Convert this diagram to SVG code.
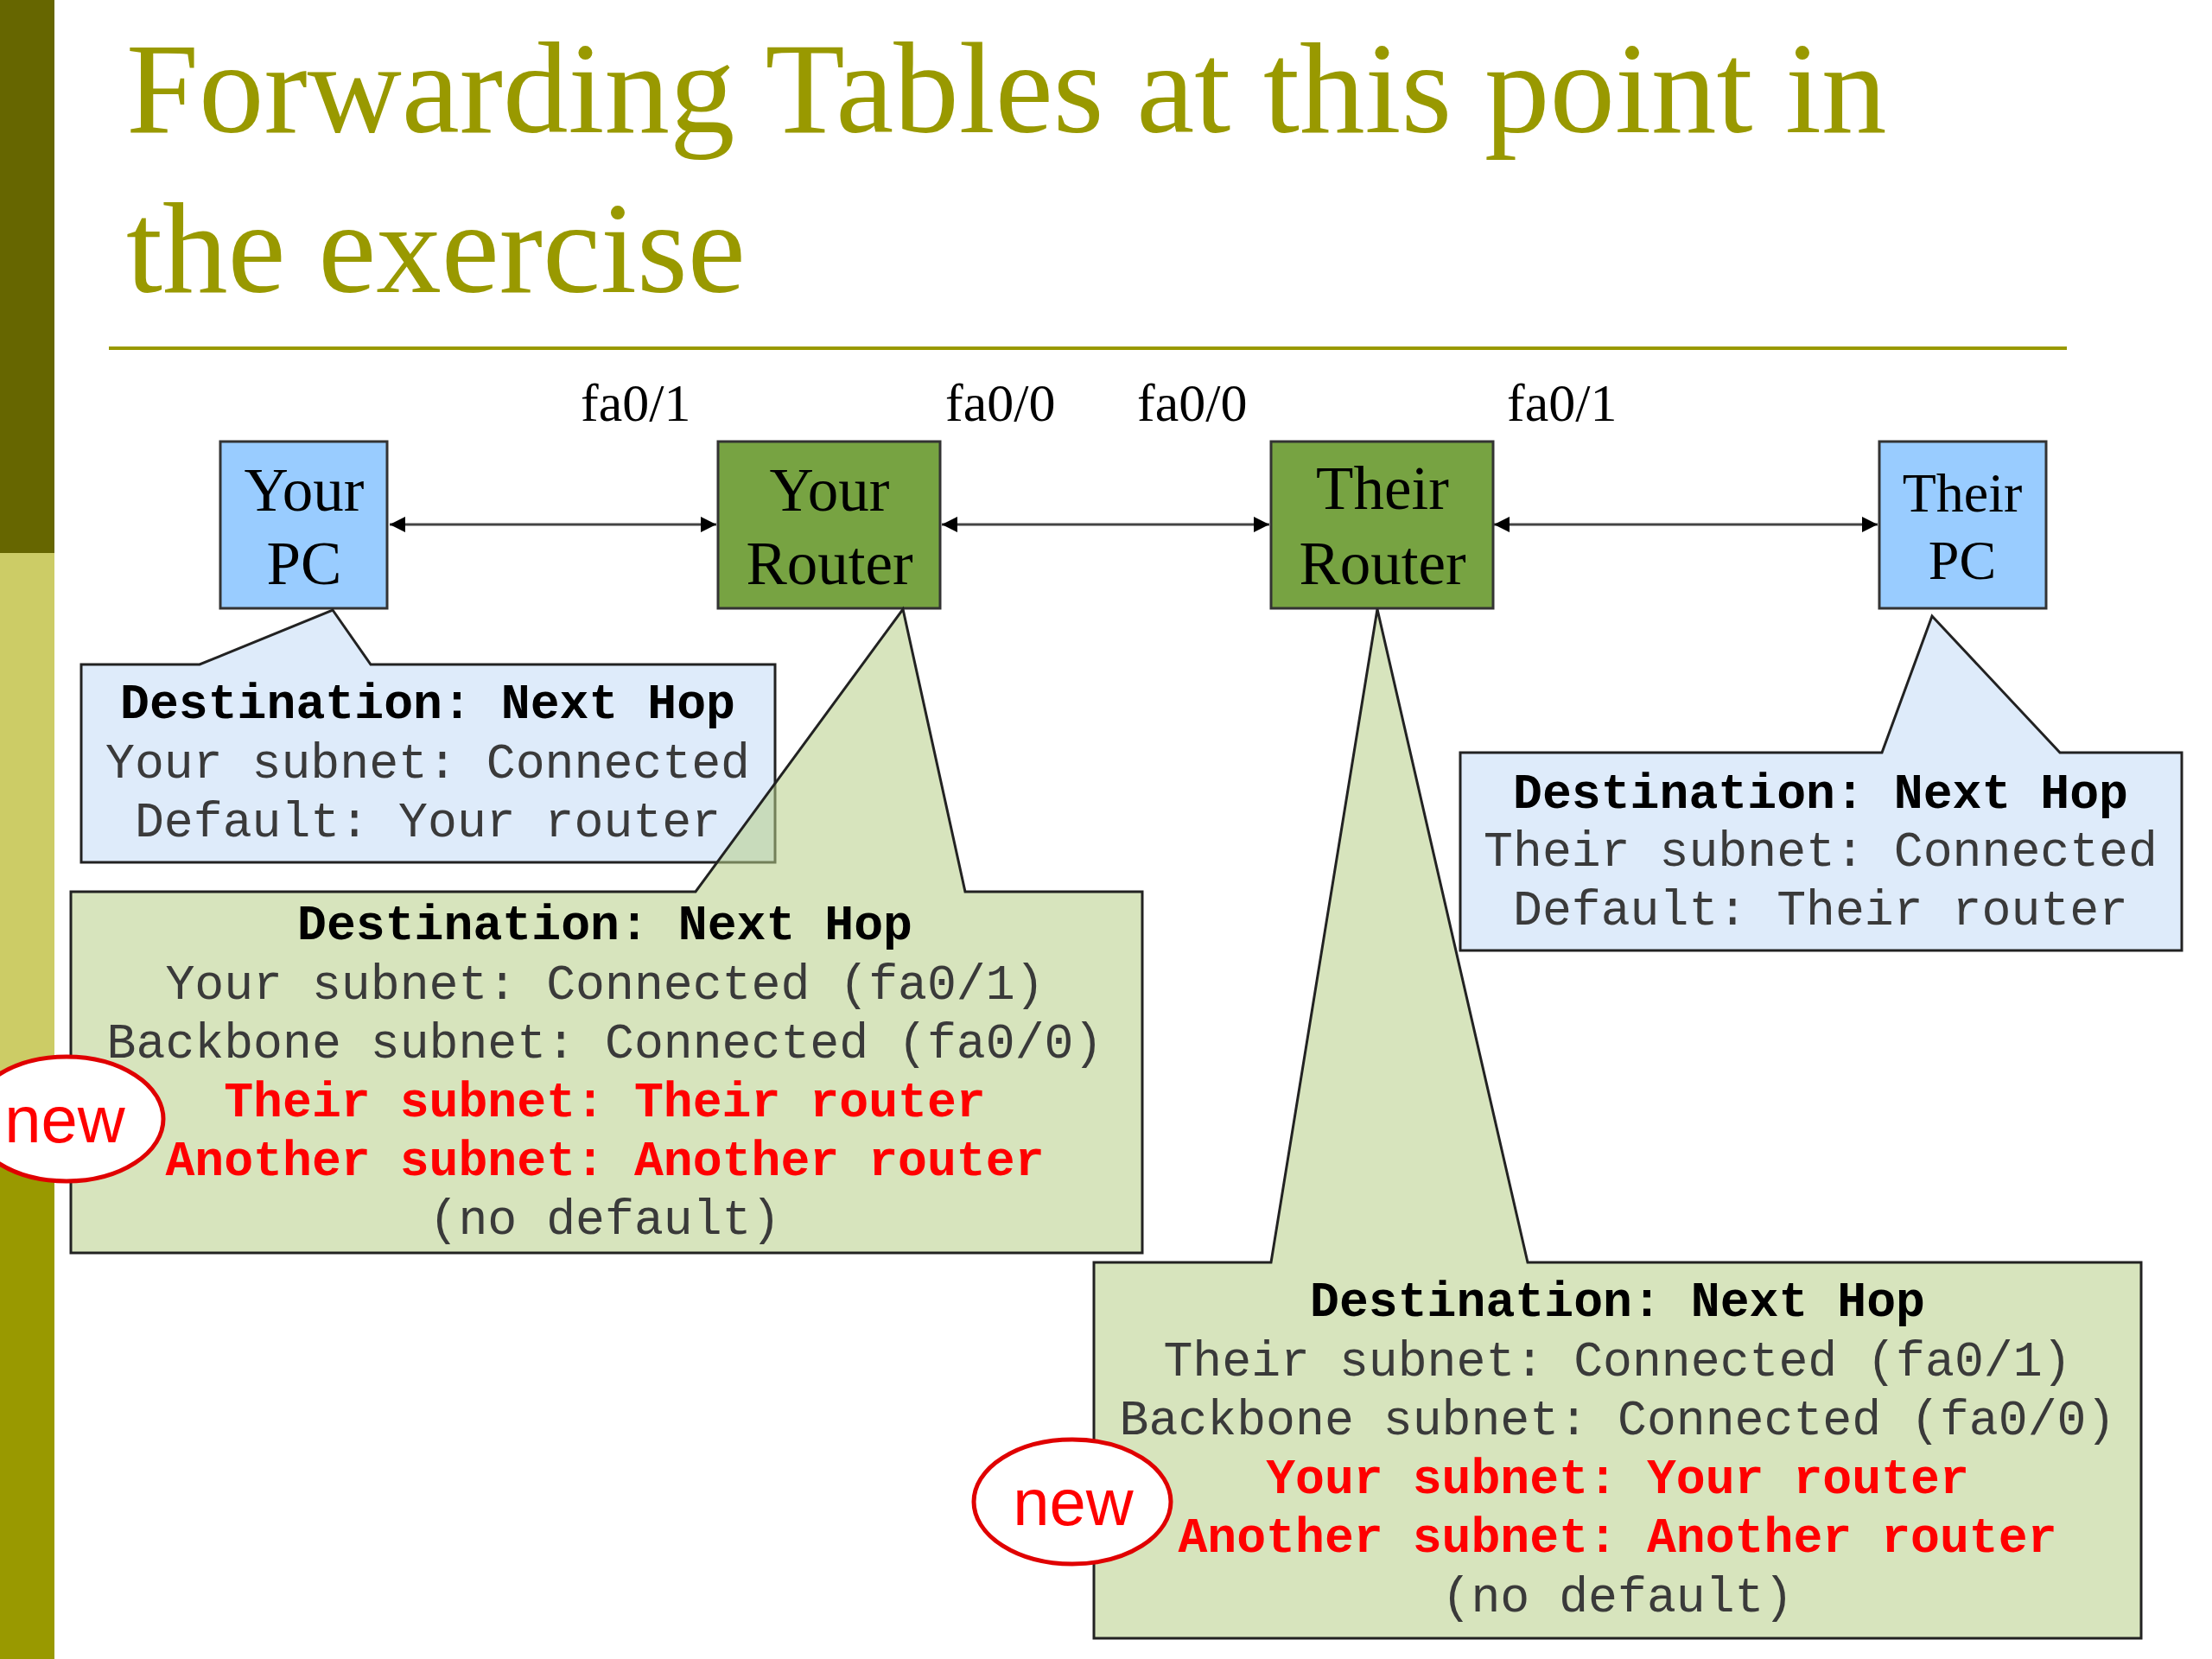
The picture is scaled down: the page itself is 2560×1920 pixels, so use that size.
<svg xmlns="http://www.w3.org/2000/svg" width="2560" height="1920" viewBox="0 0 2560 1920">
<style>
.title{font-family:"Liberation Serif","Times New Roman",serif;font-size:151px;fill:#999900}
.port{font-family:"Liberation Serif","Times New Roman",serif;font-size:62px;fill:#000}
.nlabel{font-family:"Liberation Serif","Times New Roman",serif;font-size:71px;fill:#000;text-anchor:middle}
.pc{fill:#99CCFF;stroke:#333;stroke-width:3}
.rt{fill:#77A342;stroke:#333;stroke-width:3}
.cb{fill:#DEEBFA;stroke:#222;stroke-width:3}
.cg{fill:#B6CE87;fill-opacity:0.55;stroke:#222;stroke-width:3}
.mono{font-family:"Liberation Mono","Courier New",monospace;font-size:56.5px;fill:#3a3a3a;text-anchor:middle}
.hd{font-weight:bold;fill:#000}
.red{font-weight:bold;fill:#FF0000}
.link{stroke:#444;stroke-width:3;fill:none;marker-start:url(#ah);marker-end:url(#ah)}
.newe{fill:#fff;stroke:#E00000;stroke-width:5}
.newt{font-family:"Liberation Sans",Arial,sans-serif;font-size:76px;fill:#FF0000;text-anchor:middle}
</style>
<defs>
<marker id="ah" viewBox="0 0 10 10" refX="10" refY="5" markerWidth="7" markerHeight="6" orient="auto-start-reverse" markerUnits="strokeWidth">
<path d="M0,0 L10,5 L0,10 Z" fill="#000"/>
</marker>
</defs>
<rect x="0" y="0" width="2560" height="1920" fill="#fff"/>
<g id="sidebar">
<rect x="0" y="0" width="63" height="640" fill="#666600"/>
<rect x="0" y="640" width="63" height="655" fill="#CCCC66"/>
<rect x="0" y="1295" width="63" height="625" fill="#999900"/>
</g>
<g id="title">
<text class="title" x="146" y="153">Forwarding Tables at this point in</text>
<text class="title" x="146" y="338">the exercise</text>
<line x1="126" y1="403" x2="2392" y2="403" stroke="#999900" stroke-width="4"/>
</g>
<g id="ports">
<text class="port" x="672" y="487">fa0/1</text>
<text class="port" x="1094" y="487">fa0/0</text>
<text class="port" x="1316" y="487">fa0/0</text>
<text class="port" x="1744" y="487">fa0/1</text>
</g>
<g id="connectors">
<line class="link" x1="451" y1="607" x2="829" y2="607"/>
<line class="link" x1="1090" y1="607" x2="1469" y2="607"/>
<line class="link" x1="1729" y1="607" x2="2173" y2="607"/>
</g>
<g id="your-pc">
<rect class="pc" x="255" y="511" width="193" height="193"/>
<text class="nlabel" x="352" y="591">Your</text>
<text class="nlabel" x="352" y="676">PC</text>
</g>
<g id="your-router">
<rect class="rt" x="831" y="511" width="257" height="193"/>
<text class="nlabel" x="960" y="591">Your</text>
<text class="nlabel" x="960" y="676">Router</text>
</g>
<g id="their-router">
<rect class="rt" x="1471" y="511" width="257" height="193"/>
<text class="nlabel" x="1600" y="589">Their</text>
<text class="nlabel" x="1600" y="676">Router</text>
</g>
<g id="their-pc">
<rect class="pc" x="2175" y="511" width="193" height="193"/>
<text class="nlabel" x="2271" y="592" style="font-size:64px">Their</text>
<text class="nlabel" x="2271" y="670" style="font-size:64px">PC</text>
</g>
<g id="your-pc-table">
<path class="cb" d="M94,769 L231,769 L385,706 L429,769 L897,769 L897,998 L94,998 Z"/>
<text class="mono hd" x="495" y="831">Destination: Next Hop</text>
<text class="mono" x="495" y="900">Your subnet: Connected</text>
<text class="mono" x="495" y="968">Default: Your router</text>
</g>
<g id="your-router-table">
<path class="cg" d="M82,1032 L805,1032 L1045,705 L1117,1032 L1322,1032 L1322,1450 L82,1450 Z"/>
<text class="mono hd" x="700" y="1087">Destination: Next Hop</text>
<text class="mono" x="700" y="1156">Your subnet: Connected (fa0/1)</text>
<text class="mono" x="700" y="1224">Backbone subnet: Connected (fa0/0)</text>
<text class="mono red" x="700" y="1292">Their subnet: Their router</text>
<text class="mono red" x="700" y="1360">Another subnet: Another router</text>
<text class="mono" x="700" y="1428">(no default)</text>
</g>
<g id="their-pc-table">
<path class="cb" d="M1690,871 L2178,871 L2236,713 L2384,871 L2525,871 L2525,1100 L1690,1100 Z"/>
<text class="mono hd" x="2107" y="935">Destination: Next Hop</text>
<text class="mono" x="2107" y="1002">Their subnet: Connected</text>
<text class="mono" x="2107" y="1070">Default: Their router</text>
</g>
<g id="their-router-table">
<path class="cg" d="M1266,1461 L1471,1461 L1594,705 L1768,1461 L2478,1461 L2478,1896 L1266,1896 Z"/>
<text class="mono hd" x="1872" y="1523">Destination: Next Hop</text>
<text class="mono" x="1872" y="1592">Their subnet: Connected (fa0/1)</text>
<text class="mono" x="1872" y="1660">Backbone subnet: Connected (fa0/0)</text>
<text class="mono red" x="1872" y="1728">Your subnet: Your router</text>
<text class="mono red" x="1872" y="1796">Another subnet: Another router</text>
<text class="mono" x="1872" y="1865">(no default)</text>
</g>
<g id="new-left">
<ellipse class="newe" cx="77" cy="1295" rx="112" ry="72"/>
<text class="newt" x="75" y="1322">new</text>
</g>
<g id="new-right">
<ellipse class="newe" cx="1241" cy="1738" rx="114" ry="72"/>
<text class="newt" x="1242" y="1765">new</text>
</g>
</svg>
